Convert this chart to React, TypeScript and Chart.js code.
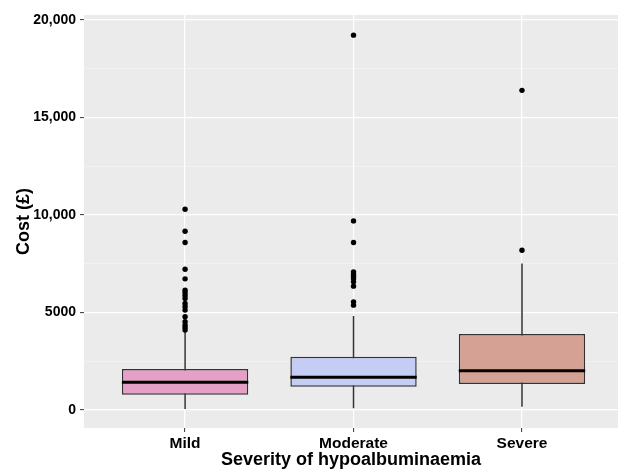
import React, { useEffect, useRef } from 'react';
import { Chart, registerables } from 'chart.js';

Chart.register(...registerables);

// ---- data ----
const categories = ['Mild', 'Moderate', 'Severe'];
const categoryPositions = [1, 2, 3];
const q1Values = [783, 1193, 1331];
const medianValues = [1417, 1674, 2013];
const q3Values = [2098, 2728, 3890];
const whiskerLow = [50, 87, 170];
const whiskerHigh = [4007, 4811, 7508];
const outliersMild = [10287, 9161, 8583, 7216, 6720, 6142, 6003, 5870, 5717, 5461, 5287, 5118, 4775, 4519, 4350, 4233, 4094];
const outliersModerate = [19208, 9689, 8583, 7078, 6960, 6858, 6740, 6566, 6346, 5543, 5374];
const outliersSevere = [16378, 8189];
const boxColors = ['#E69FC6', '#C6CDF5', '#D4A194'];
const yMajorTicks = [0, 5000, 10000, 15000, 20000];
const yMajorLabels = ['0', '5000', '10,000', '15,000', '20,000'];
const yMinorTicks = [2500, 7500, 12500, 17500];

const FONT = "'Liberation Sans', Arial, Helvetica, sans-serif";

const panelBg = {
  id: 'panelBg',
  beforeDraw(chart: any) {
    const { ctx, chartArea } = chart;
    if (!chartArea) return;
    ctx.save();
    ctx.fillStyle = '#EBEBEB';
    ctx.fillRect(chartArea.left, chartArea.top, chartArea.right - chartArea.left, chartArea.bottom - chartArea.top);
    ctx.restore();
  },
};

export default function App() {
  const canvasRef = useRef<HTMLCanvasElement | null>(null);

  useEffect(() => {
    if (!canvasRef.current) return;
    const halfBox = 0.375;

    const boxData = categoryPositions.map((x, i) => ({ x, y: [q1Values[i], q3Values[i]] }));
    const whiskerData: any[] = [];
    const medianData: any[] = [];
    categoryPositions.forEach((x, i) => {
      whiskerData.push({ x, y: whiskerLow[i] }, { x, y: whiskerHigh[i] }, { x, y: null });
      medianData.push({ x: x - halfBox, y: medianValues[i] }, { x: x + halfBox, y: medianValues[i] }, { x, y: null });
    });
    const outlierGroups = [outliersMild, outliersModerate, outliersSevere];
    const outlierData: any[] = [];
    outlierGroups.forEach((arr, i) => arr.forEach((v) => outlierData.push({ x: categoryPositions[i], y: v })));

    const yTicks = [...yMajorTicks, ...yMinorTicks].sort((a, b) => a - b);
    const isMajor = (v: number) => yMajorTicks.includes(v);

    const chart = new Chart(canvasRef.current, {
      type: 'bar',
      data: {
        datasets: [
          {
            type: 'scatter',
            data: outlierData,
            backgroundColor: '#000000',
            borderColor: '#000000',
            pointRadius: 2.7,
            borderWidth: 0,
            order: 0,
          } as any,
          {
            type: 'line',
            data: medianData,
            borderColor: '#000000',
            borderWidth: 3,
            pointRadius: 0,
            spanGaps: false,
            fill: false,
            order: 1,
          } as any,
          {
            type: 'bar',
            data: boxData,
            backgroundColor: boxColors,
            borderColor: '#333333',
            borderWidth: 1.5,
            borderSkipped: false,
            barPercentage: 0.75,
            categoryPercentage: 1,
            order: 2,
          } as any,
          {
            type: 'line',
            data: whiskerData,
            borderColor: '#333333',
            borderWidth: 1.5,
            pointRadius: 0,
            spanGaps: false,
            fill: false,
            order: 3,
          } as any,
        ],
      },
      options: {
        animation: false,
        responsive: true,
        maintainAspectRatio: false,
        layout: { autoPadding: false, padding: { top: 15, left: 0, right: 0, bottom: 0 } },
        plugins: { legend: { display: false }, tooltip: { enabled: false } },
        scales: {
          x: {
            type: 'linear',
            min: 0.4,
            max: 3.57,
            offset: false,
            border: { display: false },
            grid: {
              offset: false,
              color: '#FFFFFF',
              lineWidth: 1.2,
              tickColor: '#333333',
              tickLength: 4,
              tickWidth: 1,
            },
            ticks: {
              autoSkip: false,
              maxRotation: 0,
              padding: 2,
              color: '#000000',
              font: { family: FONT, size: 15.5, weight: 'bold' },
              callback: (value: any) => {
                const idx = categoryPositions.indexOf(Number(value));
                return idx >= 0 ? categories[idx] : '';
              },
            },
            afterBuildTicks: (axis: any) => {
              axis.ticks = categoryPositions.map((v) => ({ value: v }));
            },
            afterFit: (axis: any) => {
              axis.height = 43;
              axis.paddingLeft = 0;
              axis.paddingRight = 0;
            },
            title: {
              display: true,
              text: 'Severity of hypoalbuminaemia',
              color: '#000000',
              font: { family: FONT, size: 18, weight: 'bold' },
              padding: { top: 0, bottom: 0 },
            },
          },
          y: {
            type: 'linear',
            min: -922,
            max: 20240,
            border: { display: false },
            grid: {
              color: (ctx: any) => (ctx.tick && isMajor(ctx.tick.value) ? '#FFFFFF' : '#F6F6F6'),
              lineWidth: (ctx: any) => (ctx.tick && isMajor(ctx.tick.value) ? 1.2 : 0.6),
              tickColor: (ctx: any) => (ctx.tick && isMajor(ctx.tick.value) ? '#333333' : 'rgba(0,0,0,0)'),
              tickLength: 4,
              tickWidth: 1,
            },
            ticks: {
              autoSkip: false,
              padding: 4,
              color: '#000000',
              font: { family: FONT, size: 14, weight: 'bold' },
              callback: (value: any) => {
                const idx = yMajorTicks.indexOf(Number(value));
                return idx >= 0 ? yMajorLabels[idx] : '';
              },
            },
            afterBuildTicks: (axis: any) => {
              axis.ticks = yTicks.map((v) => ({ value: v }));
            },
            afterFit: (axis: any) => {
              axis.width = 84;
              axis.paddingTop = 0;
              axis.paddingBottom = 0;
            },
            title: {
              display: true,
              text: 'Cost (£)',
              color: '#000000',
              font: { family: FONT, size: 18, weight: 'bold' },
              padding: { top: 13, bottom: 0 },
            },
          },
        },
      } as any,
      plugins: [panelBg],
    });

    return () => chart.destroy();
  }, []);

  return (
    <div style={{ position: 'absolute', left: 0, top: 0, width: 618, height: 471, background: '#FFFFFF' }}>
      <canvas ref={canvasRef} />
    </div>
  );
}
